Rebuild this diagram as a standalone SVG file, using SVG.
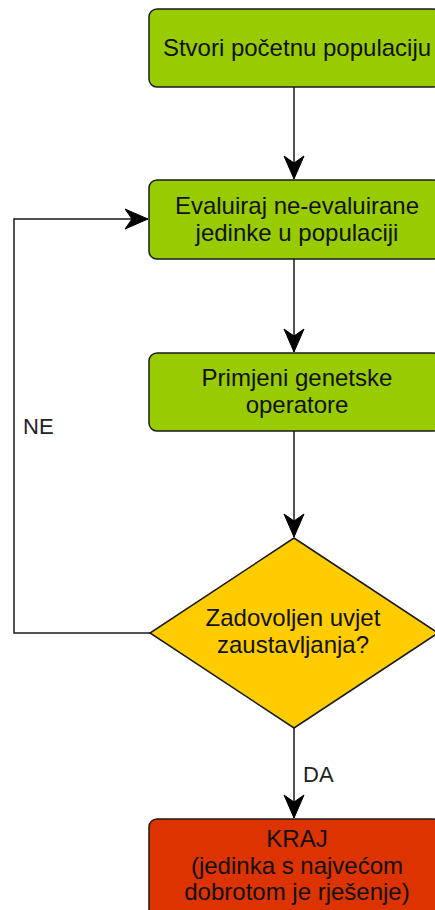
<svg xmlns="http://www.w3.org/2000/svg" width="435" height="910" viewBox="0 0 435 910">
<style>
.box{stroke:#1a1a1a;stroke-width:1.5}
.green{fill:#99cc00}
.yellow{fill:#ffcc00}
.red{fill:#dd3300}
.t{font-family:"Liberation Sans",Arial,sans-serif;font-size:24px;fill:#111;text-anchor:middle}
.lbl{font-family:"Liberation Sans",Arial,sans-serif;font-size:22px;fill:#222}
.c{fill:none;stroke:#1a1a1a;stroke-width:1.5}
</style>
<defs>
<marker id="arr" markerUnits="userSpaceOnUse" viewBox="-25 -11 26 22" refX="0" refY="0" markerWidth="26" markerHeight="22" orient="auto" overflow="visible">
<path d="M0,0 L-23,-10 L-16,0 L-23,10 Z" fill="#000" stroke="#000" stroke-width="1"/>
</marker>
</defs>
<rect width="435" height="910" fill="#fff"/>
<g id="connectors">
<path class="c" d="M294,87 L294,179" marker-end="url(#arr)"/>
<path class="c" d="M294,259 L294,352" marker-end="url(#arr)"/>
<path class="c" d="M294,431 L294,537" marker-end="url(#arr)"/>
<path class="c" d="M294,728 L294,818" marker-end="url(#arr)"/>
<path class="c" d="M150,633 L14,633 L14,219 L148,219" marker-end="url(#arr)"/>
<text class="lbl" x="23" y="434">NE</text>
<text class="lbl" x="303" y="782">DA</text>
</g>
<g id="start">
<rect class="box green" x="149" y="9" width="292" height="78" rx="8"/>
<text class="t" x="297" y="56">Stvori početnu populaciju</text>
</g>
<g id="evaluate">
<rect class="box green" x="149" y="180" width="292" height="79" rx="8"/>
<text class="t" x="297" y="214">Evaluiraj ne-evaluirane</text>
<text class="t" x="297" y="241">jedinke u populaciji</text>
</g>
<g id="operators">
<rect class="box green" x="149" y="353" width="292" height="78" rx="8"/>
<text class="t" x="297" y="386">Primjeni genetske</text>
<text class="t" x="297" y="413">operatore</text>
</g>
<g id="decision">
<path class="box yellow" d="M294,538 L438,633 L294,728 L150,633 Z"/>
<text class="t" x="293" y="626">Zadovoljen uvjet</text>
<text class="t" x="293" y="653">zaustavljanja?</text>
</g>
<g id="end">
<rect class="box red" x="149" y="819" width="292" height="100" rx="8"/>
<text class="t" x="297" y="847">KRAJ</text>
<text class="t" x="297" y="874">(jedinka s najvećom</text>
<text class="t" x="297" y="900">dobrotom je rješenje)</text>
</g>
</svg>
